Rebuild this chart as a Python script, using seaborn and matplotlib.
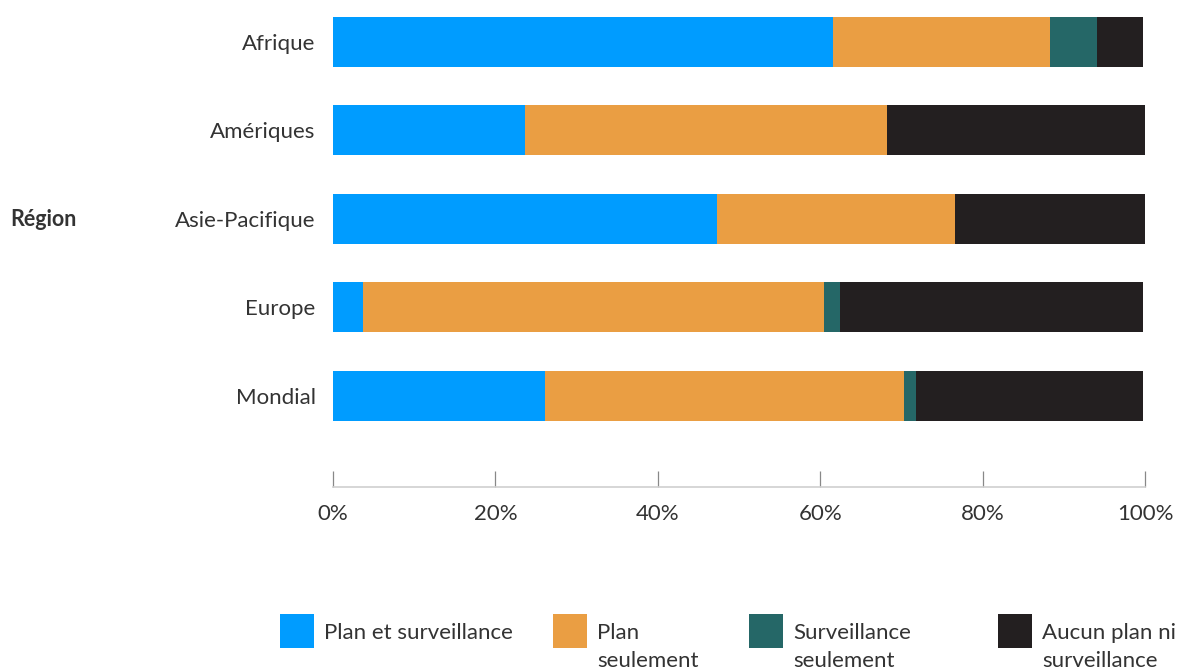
import matplotlib
matplotlib.use("Agg")
import matplotlib.pyplot as plt
import matplotlib.patches as mpatches
from matplotlib.legend_handler import HandlerPatch
import numpy as np
import seaborn as sns

regions = ["Afrique", "Amériques", "Asie-Pacifique", "Europe", "Mondial"]
series_names = ["Plan et surveillance", "Plan\nseulement", "Surveillance\nseulement", "Aucun plan ni\nsurveillance"]
plan_et_surveillance = [61.6, 23.6, 47.3, 3.7, 26.1]
plan_seulement = [26.7, 44.6, 29.3, 56.8, 44.2]
surveillance_seulement = [5.8, 0.0, 0.0, 1.9, 1.5]
aucun_plan = [5.7, 31.8, 23.4, 37.4, 27.9]
colors = ["#009cff", "#ea9e43", "#256767", "#231f20"]
x_ticks = [0, 20, 40, 60, 80, 100]
x_tick_labels = ["0%", "20%", "40%", "60%", "80%", "100%"]

sns.set_style("white")
plt.rcParams["font.family"] = ["Lato", "DejaVu Sans"]
text_color = "#333333"

fig = plt.figure(figsize=(11.8, 6.68), dpi=100)
ax = fig.add_axes([333 / 1180, 1 - 487 / 668, 812 / 1180, 487 / 668])

values = np.array([plan_et_surveillance, plan_seulement, surveillance_seulement, aucun_plan])
cumulative = np.cumsum(values, axis=0)

# draw the longest stack first so the shorter ones sit on top
for i in reversed(range(len(series_names))):
    sns.barplot(x=cumulative[i], y=regions, color=colors[i], saturation=1,
                width=0.566, orient="h", linewidth=0, ax=ax)

ax.set_xlim(0, 100)
ax.set_ylim(5.035, -0.475)
ax.set_xticks(x_ticks)
ax.set_xticklabels(x_tick_labels)
ax.set_xlabel("")
ax.set_ylabel("")
for side in ["top", "right", "left"]:
    ax.spines[side].set_visible(False)
ax.spines["bottom"].set_color("#d0d0d0")
ax.spines["bottom"].set_linewidth(1.2)
ax.tick_params(axis="x", bottom=True, direction="in", length=11.5, width=0.9, color="#888888",
               labelsize=16, labelcolor=text_color, pad=12)
ax.tick_params(axis="y", left=False, length=0, labelsize=16, labelcolor=text_color, pad=12.5)

fig.text(10 / 1180, 1 - 220 / 668, "Région", fontsize=15.5, fontweight="bold",
         color=text_color, ha="left", va="center")


# square legend key centred on the first line of the label
def square(legend, orig_handle, xdescent, ydescent, width, height, fontsize):
    side = 24.5
    cy = -ydescent + height / 2 + 1.4
    return mpatches.Rectangle((-xdescent, cy - side / 2), side, side)


legend_x = [280, 553, 749, 998]
for i, name in enumerate(series_names):
    handle = mpatches.Patch(color=colors[i], linewidth=0)
    leg = fig.legend([handle], [name], loc="upper left",
                     bbox_to_anchor=(legend_x[i] / 1180, 1 - 623 / 668),
                     handler_map={mpatches.Patch: HandlerPatch(patch_func=square)},
                     frameon=False, fontsize=16, labelcolor=text_color,
                     handlelength=1.53, handleheight=1.0, handletextpad=0.45,
                     borderpad=0, borderaxespad=0)
    for column in leg._legend_handle_box.get_children():
        for item in column.get_children():
            item.align = "top"
    for t in leg.get_texts():
        t.set_linespacing(1.5)

plt.savefig("out.png", dpi=100)
